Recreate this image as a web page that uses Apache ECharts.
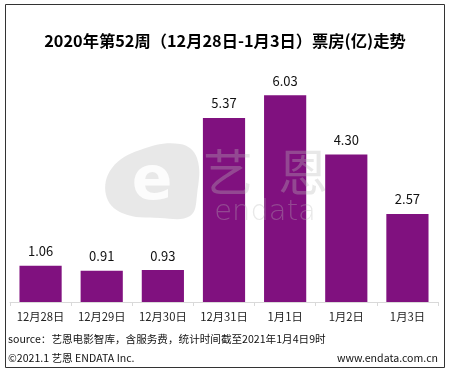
<!DOCTYPE html>
<html><head><meta charset="utf-8">
<script src="https://cdn.jsdelivr.net/npm/echarts@6/dist/echarts.min.js"></script>
<style>html,body{margin:0;padding:0;background:#fff}#c{width:450px;height:372px}</style>
</head><body><div id="c"></div>
<script>
var categories = ['12月28日','12月29日','12月30日','12月31日','1月1日','1月2日','1月3日'];
var boxOffice = [1.06, 0.91, 0.93, 5.37, 6.03, 4.30, 2.57];
var titleText = '2020年第52周（12月28日-1月3日）票房(亿)走势';
var sourceText = 'source：艺恩电影智库，含服务费，统计时间截至2021年1月4日9时';
var copyText = '©2021.1 艺恩 ENDATA Inc.';
var siteText = 'www.endata.com.cn';
var FONT = '"Noto Sans CJK SC","Noto Sans",sans-serif';
var WM = 'rgba(185,185,185,0.33)';
var chart = echarts.init(document.getElementById('c'), null, {renderer:'canvas'});
chart.setOption({
  animation:false,
  backgroundColor:'#fff',
  title:{text:titleText,left:'center',top:28,textStyle:{fontFamily:FONT,fontSize:16.3,fontWeight:'bold',color:'#000'}},
  grid:{left:10,right:12,top:62,bottom:70,containLabel:false},
  xAxis:{type:'category',data:categories,
    axisLine:{lineStyle:{color:'#d9d9d9',width:1}},
    axisTick:{show:true,length:4,lineStyle:{color:'#d9d9d9'}},
    axisLabel:{interval:0,color:'#222',fontSize:11.3,fontFamily:FONT,margin:9}},
  yAxis:{type:'value',min:0,max:7,show:false,splitLine:{show:false}},
  series:[{type:'bar',data:boxOffice,barWidth:'69%',
    itemStyle:{color:'#80117f'},
    label:{show:true,position:'top',distance:8,color:'#111',fontSize:13,fontFamily:FONT,
      formatter:function(p){return p.value.toFixed(2);}}}],
  graphic:[
    {type:'rect',shape:{x:5.5,y:4.5,width:439,height:363},style:{fill:'none',stroke:'#333',lineWidth:1},z:100},
    {type:'text',x:8,y:334,style:{text:sourceText,fontSize:10.6,fontFamily:FONT,fill:'#111'},z:100},
    {type:'text',x:8,y:353,style:{text:copyText,fontSize:10.6,fontFamily:FONT,fill:'#111'},z:100},
    {type:'text',x:438,y:353,style:{text:siteText,fontSize:10.6,fontFamily:FONT,fill:'#111',align:'right'},z:100},
    {type:'polygon',shape:{points:[[106,195],[112,168],[140,150],[180,144],[197,158],[197,195],[190,216],[160,218],[122,213]],smooth:0.4},
      style:{fill:WM},z:50},
    {type:'text',x:152,y:183,style:{text:'e',fontSize:60,fontWeight:'bold',fontFamily:'DejaVu Sans',fill:'rgba(255,255,255,0.85)',align:'center',verticalAlign:'middle'},z:51},
    {type:'text',x:228,y:172,style:{text:'艺',fontSize:50,fontFamily:FONT,fill:WM,align:'center',verticalAlign:'middle'},z:50},
    {type:'text',x:303,y:172,style:{text:'恩',fontSize:50,fontFamily:FONT,fill:WM,align:'center',verticalAlign:'middle'},z:50},
    {type:'text',x:265,y:212,style:{text:'endata',fontSize:29,fontFamily:'DejaVu Sans',fontWeight:'lighter',fill:WM,align:'center',verticalAlign:'middle'},z:50}
  ]
});
</script></body></html>
